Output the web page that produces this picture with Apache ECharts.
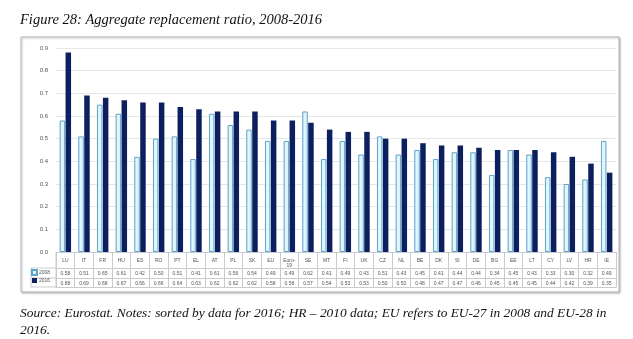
<!DOCTYPE html>
<html><head><meta charset="utf-8">
<script src="https://cdn.jsdelivr.net/npm/echarts@6/dist/echarts.min.js"></script>
<style>
html,body{margin:0;padding:0;background:#fff;}
#c{width:633px;height:339px;}
</style></head><body>
<div id="c"></div>
<script>
const categories = ['LU','IT','FR','HU','ES','RO','PT','EL','AT','PL','SK','EU','Euro-19','SE','MT','FI','UK','CZ','NL','BE','DK','SI','DE','BG','EE','LT','CY','LV','HR','IE'];
const v2008 = [0.58,0.51,0.65,0.61,0.42,0.50,0.51,0.41,0.61,0.56,0.54,0.49,0.49,0.62,0.41,0.49,0.43,0.51,0.43,0.45,0.41,0.44,0.44,0.34,0.45,0.43,0.33,0.30,0.32,0.49];
const v2016 = [0.88,0.69,0.68,0.67,0.66,0.66,0.64,0.63,0.62,0.62,0.62,0.58,0.58,0.57,0.54,0.53,0.53,0.50,0.50,0.48,0.47,0.47,0.46,0.45,0.45,0.45,0.44,0.42,0.39,0.35];
const yTicks = [0.0,0.1,0.2,0.3,0.4,0.5,0.6,0.7,0.8,0.9];

const chart = echarts.init(document.getElementById('c'));
const lineC = '#c8ccd2';
const txtC = '#555';
const tf = 5;
function rowAxis(offset, labels, showLabel) {
  return {
    type:'category', data:categories, position:'bottom', offset:offset, gridIndex:0,
    axisLine:{show:true, lineStyle:{color:lineC, width:1}},
    axisTick:{show:false},
    axisLabel:{show:showLabel, interval:0, fontSize:tf, color:txtC, margin:3,
      formatter:(v,i)=> labels ? labels[i].toFixed(2) : ''},
    splitLine:{show:false}
  };
}
chart.setOption({
  animation:false,
  backgroundColor:'#fff',
  title:{text:'Figure 28: Aggregate replacement ratio, 2008-2016', left:15, top:8,
    textStyle:{fontFamily:'Liberation Serif', fontStyle:'italic', fontWeight:'normal', fontSize:14.5, color:'#111'}},
  legend:{orient:'vertical', left:31, top:269, itemGap:2, itemWidth:5, itemHeight:5,
    textStyle:{fontSize:tf, color:txtC, padding:[0,0,0,-3]}, padding:0,
    data:[{name:'2008', icon:'rect'},{name:'2016', icon:'rect'}]},
  grid:{left:56, right:17, top:48, bottom:87, containLabel:false},
  xAxis:[
    {type:'category', data:categories, position:'bottom', offset:0,
      axisLine:{show:true, lineStyle:{color:lineC}},
      axisTick:{show:true, length:35, interval:0, lineStyle:{color:lineC}},
      axisLabel:{interval:0, fontSize:tf, color:txtC, margin:6, lineHeight:5,
        formatter:v=> v==='Euro-19' ? 'Euro-\n19' : v}},
    rowAxis(16, v2008, true),
    rowAxis(26, v2016, true),
    rowAxis(35, null, false)
  ],
  yAxis:{type:'value', min:0, max:0.9, interval:0.1,
    axisLine:{show:false}, axisTick:{show:false},
    axisLabel:{fontSize:6, color:txtC, margin:8, formatter:v=>v.toFixed(1)},
    splitLine:{lineStyle:{color:'#e4e6e8'}}},
  series:[
    {name:'2008', type:'bar', data:v2008, barWidth:5.5, barGap:'8%',
      itemStyle:{color:'#dff5fb', borderColor:'#5fa3c9', borderWidth:1}},
    {name:'2016', type:'bar', data:v2016, barWidth:5.5,
      itemStyle:{color:'#0c1f5e'}}
  ],
  graphic:[
    {type:'rect', shape:{x:21, y:37, width:598, height:255}, silent:true, z:-10,
      style:{fill:'#fff', stroke:'#b3b7c0', lineWidth:1, shadowBlur:2, shadowOffsetX:1, shadowOffsetY:1, shadowColor:'rgba(0,0,0,0.25)'}},
    {type:'line', shape:{x1:31, y1:268, x2:56, y2:268}, style:{stroke:lineC}},
    {type:'line', shape:{x1:31, y1:278, x2:56, y2:278}, style:{stroke:lineC}},
    {type:'line', shape:{x1:31, y1:287, x2:56, y2:287}, style:{stroke:lineC}},
    {type:'line', shape:{x1:31, y1:268, x2:31, y2:287}, style:{stroke:lineC}},
    {type:'line', shape:{x1:56, y1:252, x2:56, y2:287}, style:{stroke:lineC}},
    {type:'text', left:20, top:305, style:{text:'Source: Eurostat. Notes: sorted by data for 2016; HR \u2013 2010 data; EU refers to EU-27 in 2008 and EU-28 in\n2016.',
      font:'italic 13.4px "Liberation Serif"', fill:'#111', lineHeight:17}}
  ]
});
</script>
</body></html>
